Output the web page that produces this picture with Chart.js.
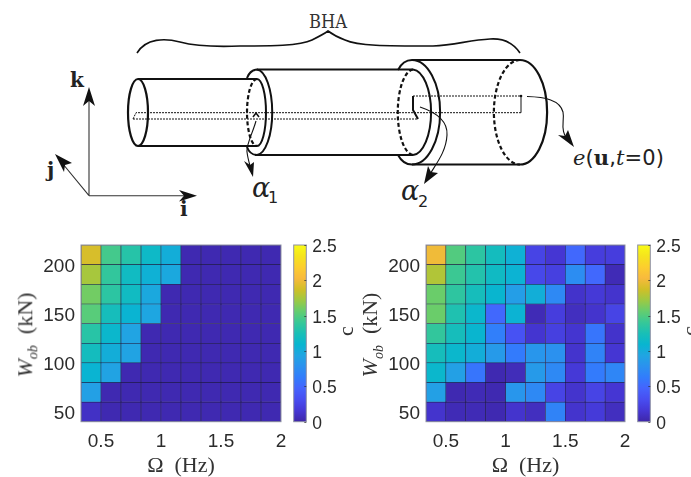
<!DOCTYPE html>
<html>
<head>
<meta charset="utf-8">
<title>BHA</title>
<script src="https://cdn.jsdelivr.net/npm/chart.js@4"></script>
<style>
  html, body { margin: 0; padding: 0; background: #fff; overflow: hidden; }
  body { width: 691px; height: 477px; position: relative; }
  canvas, svg, .vlabel { position: absolute; }
  .vlabel { color: #333; font: 22px "Liberation Serif", serif; white-space: nowrap; transform: translate(-50%, -50%) rotate(-90deg); }
  .vlabel sub { font-size: 14px; }
</style>
</head>
<body>

<svg width="691" height="235" style="left:0;top:0" fill="none" stroke="#111" stroke-width="2">
  <!-- brace -->
  <path stroke-width="1.6" d="M137 53 C146 38 165 38 180 42 C195 46 215 47 240 46 C270 46 300 46 312 40 C318 37 324 34 328 31 C332 34 337 37 345 40 C358 46 385 46 433 46 C455 45 470 40 490 39 C505 38 514 44 520 53"/>
  <text x="328" y="28" text-anchor="middle" font-family="DejaVu Serif" font-size="18" textLength="38" lengthAdjust="spacingAndGlyphs" fill="#333" stroke="none">BHA</text>

  <!-- small cylinder -->
  <ellipse cx="138" cy="112.5" rx="10" ry="33.5" stroke-width="2.2"/>
  <path d="M138 79 H257 M138 146 H257"/>
  <path d="M257 79 A10 33.5 0 0 0 257 146" stroke-dasharray="4 2.5" stroke-width="2.2"/>
  <path d="M257 79 A9 33.5 0 0 1 257 146"/>
  <path d="M247 78 Q250 70 257 69.5 A16 42.8 0 0 1 257 155 Q250 155 247 147"/>

  <!-- middle cylinder -->
  <path d="M257 69.5 H413 M257 155 H413"/>
  <path d="M413 69.5 A16 42.8 0 0 0 413 155" stroke-dasharray="4 2.5" stroke-width="2.2"/>
  <path d="M413 69.5 A19 42.8 0 0 1 413 155"/>
  <path d="M398 70 Q403 60 412 60 A28 52 0 0 1 412 164.5 Q403 164.5 398 155"/>

  <!-- large cylinder -->
  <path d="M412 60 H520 M412 164.5 H520"/>
  <path d="M520 60 A27 52 0 0 1 520 164.5" stroke-width="2.2"/>
  <path d="M520 60 A26 52 0 0 0 520 164.5" stroke-dasharray="4 2.5" stroke-width="2.2"/>

  <!-- eccentricity lines -->
  <path stroke-width="1" stroke-dasharray="2 1" d="M133 119 L136 112.7 H521 M133 119 H418 M413 96 H521"/>
  <path stroke-width="1" d="M521 96 V112.7"/>
  <circle cx="521" cy="96" r="1.3" fill="#111" stroke="none"/>
  <path stroke-width="2" d="M413 96 V110 L418 119"/>
  <path stroke-width="1.6" d="M253 117 L256 113 L259 117"/>

  <!-- leader arrows -->
  <path stroke-width="1.1" d="M256 121 C252 135 246 145 247 152 C248 160 250 165 252 174"/>
  <path fill="#111" stroke="none" d="M253 177 L244 161 L250 165 L254 162 Z"/>
  <path stroke-width="1.1" d="M420 107 C435 112 448 120 447 135 C446 155 432 168 427 180"/>
  <path fill="#111" stroke="none" d="M424 184 L428 166 L431 172 L438 173 Z"/>
  <path stroke-width="1.1" d="M527 96.5 C545 97 560 100 563 112 C565 122 558 130 571 144"/>
  <path fill="#111" stroke="none" d="M574 147 L558 135 L565 136 L568 130 Z"/>

  <!-- frame arrows -->
  <path stroke="#333" stroke-width="1.1" d="M89 195.7 V92 M89 195.7 H192 M89 195.7 L58 158"/>
  <path fill="#111" stroke="none" d="M89 87 L95 106 L89 101 L83 106 Z"/>
  <path fill="#111" stroke="none" d="M197 195.7 L179 190 L184 195.7 L179 201.5 Z"/>
  <path fill="#111" stroke="none" d="M55 154 L72 163 L65 165 L64 172 Z"/>

  <g stroke="none" fill="#222">
    <text x="70" y="87" font-family="DejaVu Serif" font-weight="bold" font-size="20">k</text>
    <text x="47" y="177" font-family="DejaVu Serif" font-weight="bold" font-size="20">j</text>
    <text x="180" y="216" font-family="DejaVu Serif" font-weight="bold" font-size="20">i</text>
    <text x="252" y="197" font-family="DejaVu Serif" font-style="italic" font-size="27">α</text>
    <text x="268" y="203" font-family="DejaVu Sans" font-size="16">1</text>
    <text x="401" y="200" font-family="DejaVu Serif" font-style="italic" font-size="27">α</text>
    <text x="418" y="207" font-family="DejaVu Sans" font-size="16">2</text>
    <text x="573" y="165" font-family="DejaVu Sans" font-size="21" textLength="91"><tspan font-family="DejaVu Serif" font-style="italic">e</tspan>(<tspan font-family="DejaVu Serif" font-weight="bold">u</tspan>,<tspan font-family="DejaVu Serif" font-style="italic">t</tspan>=0)</text>
  </g>
</svg>

<canvas id="leftMap" width="291" height="242" style="left:0;top:235px"></canvas>
<canvas id="leftBar" width="63" height="242" style="left:288px;top:235px"></canvas>
<canvas id="rightMap" width="290" height="242" style="left:345px;top:235px"></canvas>
<canvas id="rightBar" width="59" height="242" style="left:632px;top:235px"></canvas>

<div class="vlabel" style="left:27px;top:335px"><i>W<sub>ob</sub></i>&nbsp;&nbsp;(kN)</div>
<div class="vlabel" style="left:372px;top:335px"><i>W<sub>ob</sub></i>&nbsp;&nbsp;(kN)</div>
<div class="vlabel" style="left:346px;top:331px">c</div>
<div class="vlabel" style="left:690px;top:331px">c</div>

<script>
const omegaHz = [0.417, 0.583, 0.75, 0.917, 1.083, 1.25, 1.417, 1.583, 1.75, 1.917];
const wobKn = [210, 190, 170, 150, 130, 110, 90, 70, 50];
const omegaTicks = [0.5, 1, 1.5, 2];
const wobTicks = [50, 100, 150, 200];
const cTicks = [0, 0.5, 1, 1.5, 2, 2.5];

// c per W_ob row (top to bottom)
const leftC = [
  [1.90, 1.45, 1.32, 1.15, 1.02, 0.03, 0.03, 0.03, 0.03, 0.03],
  [1.75, 1.38, 1.18, 1.05, 0.97, 0.03, 0.03, 0.03, 0.03, 0.03],
  [1.60, 1.35, 1.18, 0.97, 0.03, 0.03, 0.03, 0.03, 0.03, 0.03],
  [1.52, 1.22, 1.08, 0.95, 0.03, 0.03, 0.03, 0.03, 0.03, 0.03],
  [1.33, 1.12, 0.93, 0.03, 0.03, 0.03, 0.03, 0.03, 0.03, 0.03],
  [1.20, 1.02, 0.92, 0.03, 0.03, 0.03, 0.03, 0.03, 0.03, 0.03],
  [1.08, 0.92, 0.03, 0.03, 0.03, 0.03, 0.03, 0.03, 0.03, 0.03],
  [0.90, 0.03, 0.03, 0.03, 0.03, 0.03, 0.03, 0.03, 0.03, 0.03],
  [0.10, 0.03, 0.03, 0.03, 0.03, 0.03, 0.03, 0.03, 0.03, 0.03]
];
const rightC = [
  [2.00, 1.50, 1.35, 1.20, 1.05, 0.25, 0.15, 0.50, 0.20, 0.20],
  [1.78, 1.42, 1.30, 1.17, 1.07, 0.28, 0.22, 0.75, 0.50, 0.05],
  [1.58, 1.36, 1.22, 1.10, 0.88, 1.03, 0.72, 0.12, 0.17, 0.13],
  [1.58, 1.28, 1.12, 0.50, 1.07, 0.05, 0.20, 0.08, 0.13, 0.25],
  [1.38, 1.22, 1.10, 0.65, 0.35, 0.14, 0.22, 0.14, 0.58, 0.12],
  [1.22, 1.12, 1.02, 0.85, 0.62, 0.82, 0.78, 0.13, 0.68, 0.15],
  [1.12, 0.90, 0.58, 0.03, 0.06, 0.85, 0.72, 0.17, 0.62, 0.70],
  [0.90, 0.03, 0.05, 0.03, 0.82, 0.72, 0.25, 0.13, 0.25, 0.15],
  [0.13, 0.05, 0.05, 0.03, 0.13, 0.08, 0.68, 0.13, 0.18, 0.08]
];

// parula stops, evenly spaced over 0..2.5
const parula = [
  [62, 38, 168], [69, 55, 213], [72, 77, 240], [69, 99, 253], [50, 124, 252],
  [43, 145, 239], [32, 165, 226], [8, 181, 208], [25, 191, 182], [55, 200, 151],
  [100, 205, 111], [157, 201, 67], [209, 191, 39], [248, 186, 61], [252, 206, 46],
  [245, 228, 29], [249, 251, 21]
];

function colorFor(c) {
  const t = Math.min(c / 2.5, 1) * (parula.length - 1);
  const i = Math.min(Math.floor(t), parula.length - 2);
  const f = t - i;
  const rgb = parula[i].map((v, k) => Math.round(v + (parula[i + 1][k] - v) * f));
  return `rgb(${rgb.join(',')})`;
}

const sans = '"Liberation Sans", Arial, sans-serif';
const boxPlugin = {
  id: 'box',
  afterDatasetsDraw(chart) {
    const { ctx, chartArea: a } = chart;
    ctx.save();
    ctx.strokeStyle = '#8d8fa6';
    ctx.lineWidth = 1;
    ctx.strokeRect(a.left, a.top, a.right - a.left, a.bottom - a.top);
    ctx.restore();
  }
};

// the plot box has to sit at a fixed place, so tick overhang must not move it
function noOverhang(s) {
  s.paddingTop = 0;
  s.paddingBottom = 0;
  s.paddingLeft = 0;
  s.paddingRight = 0;
}

function drawMap(id, values) {
  const datasets = wobKn.map((w, r) => ({
    data: omegaHz.map(x => ({ x: x, y: [w - 10, w + 10] })),
    backgroundColor: values[r].map(colorFor),
    borderColor: 'rgba(15,12,55,0.85)',
    borderWidth: 0.6,
    borderSkipped: false,
    grouped: false,
    barPercentage: 1,
    categoryPercentage: 1
  }));
  new Chart(document.getElementById(id), {
    type: 'bar',
    data: { datasets },
    plugins: [boxPlugin],
    options: {
      responsive: false,
      animation: false,
      layout: { padding: { top: 10, right: 10 } },
      plugins: { legend: { display: false }, tooltip: { enabled: false } },
      scales: {
        x: {
          type: 'linear',
          offset: false,
          min: 1 / 3,
          max: 2,
          afterBuildTicks: s => { s.ticks = omegaTicks.map(v => ({ value: v })); },
          afterFit: s => { noOverhang(s); s.height = 55.3; },
          grid: { display: false, drawTicks: false, offset: false },
          border: { display: false },
          ticks: { autoSkip: false, maxRotation: 0, padding: 9, color: '#2b2b2b', font: { family: sans, size: 19 }, callback: v => String(v) },
          title: { display: true, text: 'Ω  (Hz)', color: '#333', padding: 0, font: { family: '"Liberation Serif", serif', size: 22, lineHeight: 1 } }
        },
        y: {
          min: 40,
          max: 220,
          afterBuildTicks: s => { s.ticks = wobTicks.map(v => ({ value: v })); },
          afterFit: s => { noOverhang(s); s.width = 81; },
          grid: { display: false, drawTicks: false },
          border: { display: false },
          ticks: { autoSkip: false, padding: 6, labelOffset: 2, color: '#2b2b2b', font: { family: sans, size: 19 }, callback: v => String(v) }
        }
      }
    }
  });
}

function drawColorbar(id, canvasWidth) {
  new Chart(document.getElementById(id), {
    type: 'bar',
    data: {
      labels: ['c'],
      datasets: [{
        data: [[cTicks[0], cTicks[cTicks.length - 1]]],
        barPercentage: 1,
        categoryPercentage: 1,
        backgroundColor: ctx => {
          const a = ctx.chart.chartArea;
          if (!a) return colorFor(0);
          const g = ctx.chart.ctx.createLinearGradient(0, a.bottom, 0, a.top);
          parula.forEach((c, i) => g.addColorStop(i / (parula.length - 1), `rgb(${c.join(',')})`));
          return g;
        }
      }]
    },
    plugins: [boxPlugin, {
      id: 'cticks',
      afterDatasetsDraw(chart) {
        const { ctx, chartArea: a, scales: { y } } = chart;
        ctx.save();
        ctx.strokeStyle = 'rgba(40,40,40,0.7)';
        y.ticks.forEach(t => {
          const py = Math.round(y.getPixelForValue(t.value)) + 0.5;
          ctx.beginPath();
          ctx.moveTo(a.right - 2, py);
          ctx.lineTo(a.right, py);
          ctx.stroke();
        });
        ctx.restore();
      }
    }],
    options: {
      responsive: false,
      animation: false,
      layout: { padding: { top: 10, left: 5.7, bottom: 55.3 } },
      plugins: { legend: { display: false }, tooltip: { enabled: false } },
      scales: {
        x: { display: false },
        y: {
          position: 'right',
          min: 0,
          max: 2.5,
          afterBuildTicks: s => { s.ticks = cTicks.map(v => ({ value: v })); },
          afterFit: s => { noOverhang(s); s.width = canvasWidth - 5.7 - 12.6; },
          grid: { display: false, drawTicks: false },
          border: { display: false },
          ticks: { autoSkip: false, padding: 6, labelOffset: 2, color: '#2b2b2b', font: { family: sans, size: 17.5 }, callback: v => String(v) }
        }
      }
    }
  });
}

drawMap('leftMap', leftC);
drawColorbar('leftBar', 63);
drawMap('rightMap', rightC);
drawColorbar('rightBar', 59);
</script>
</body>
</html>
